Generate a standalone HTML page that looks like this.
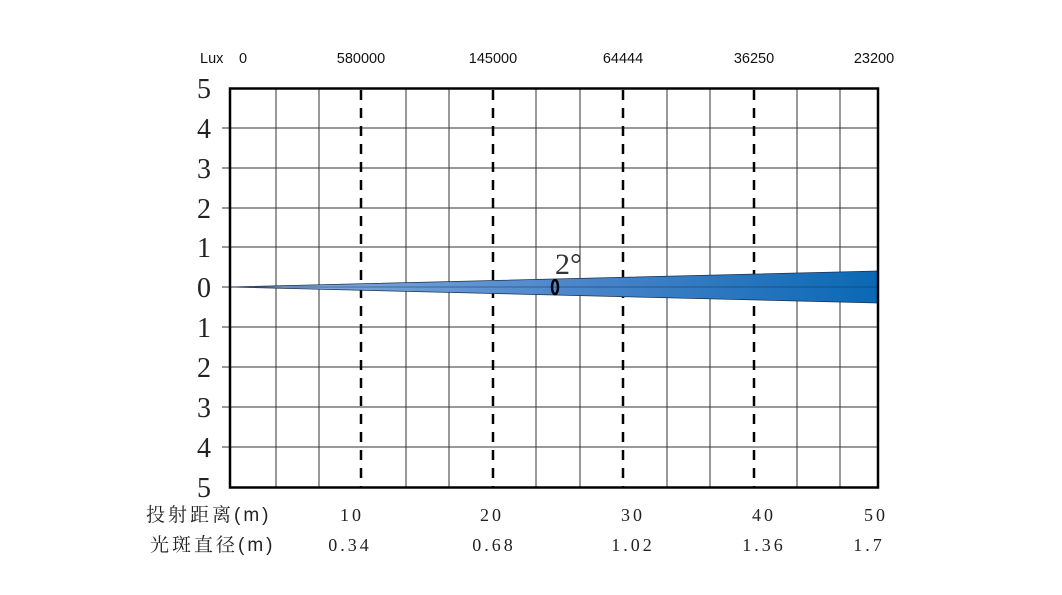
<!DOCTYPE html>
<html><head><meta charset="utf-8"><style>
body{margin:0;background:#fff;}
</style></head><body>
<svg width="1062" height="590" xmlns="http://www.w3.org/2000/svg">
<defs><linearGradient id="g" x1="0" x2="1" y1="0" y2="0">
<stop offset="0" stop-color="#8fb4e0"/><stop offset="0.5" stop-color="#4f88cc"/><stop offset="1" stop-color="#0a68b4"/></linearGradient></defs>
<g stroke="#333" stroke-width="1">
<line x1="276" y1="88" x2="276" y2="487"/><line x1="319" y1="88" x2="319" y2="487"/>
<line x1="406" y1="88" x2="406" y2="487"/><line x1="449" y1="88" x2="449" y2="487"/>
<line x1="536" y1="88" x2="536" y2="487"/><line x1="580" y1="88" x2="580" y2="487"/>
<line x1="667" y1="88" x2="667" y2="487"/><line x1="710" y1="88" x2="710" y2="487"/>
<line x1="797" y1="88" x2="797" y2="487"/><line x1="840" y1="88" x2="840" y2="487"/>
<line x1="222" y1="128" x2="878" y2="128"/><line x1="222" y1="168" x2="878" y2="168"/>
<line x1="222" y1="208" x2="878" y2="208"/><line x1="222" y1="247" x2="878" y2="247"/>
<line x1="222" y1="287" x2="878" y2="287"/><line x1="222" y1="327" x2="878" y2="327"/>
<line x1="222" y1="367" x2="878" y2="367"/><line x1="222" y1="407" x2="878" y2="407"/>
<line x1="222" y1="447" x2="878" y2="447"/>
</g>
<g stroke="#000" stroke-width="2.5" stroke-dasharray="10,8">
<line x1="361" y1="90" x2="361" y2="487"/><line x1="493" y1="90" x2="493" y2="487"/>
<line x1="623" y1="90" x2="623" y2="487"/><line x1="754" y1="90" x2="754" y2="487"/>
</g>
<polygon points="230,287 878,271 878,303" fill="url(#g)" stroke="#1a3050" stroke-width="0.8"/>
<line x1="230" y1="287" x2="878" y2="287" stroke="#1a3050" stroke-width="0.6"/>
<rect x="230" y="88.5" width="648" height="399" fill="none" stroke="#000" stroke-width="2.5"/>
<ellipse cx="555" cy="287" rx="3" ry="7" fill="none" stroke="#000" stroke-width="2.5"/>
<text x="555" y="274" font-family="Liberation Serif,serif" font-size="30" fill="#333">2°</text>
<g font-family="Liberation Sans,sans-serif" font-size="14.5" fill="#111">
<text x="200" y="63">Lux</text><text x="239" y="63">0</text>
<text x="361" y="63" text-anchor="middle">580000</text>
<text x="493" y="63" text-anchor="middle">145000</text>
<text x="623" y="63" text-anchor="middle">64444</text>
<text x="754" y="63" text-anchor="middle">36250</text>
<text x="874" y="63" text-anchor="middle">23200</text>
</g>
<g font-family="Liberation Serif,serif" font-size="28" fill="#222" text-anchor="middle">
<text x="204" y="98">5</text><text x="204" y="138">4</text><text x="204" y="178">3</text>
<text x="204" y="218">2</text><text x="204" y="257">1</text><text x="204" y="297">0</text>
<text x="204" y="337">1</text><text x="204" y="377">2</text><text x="204" y="417">3</text>
<text x="204" y="457">4</text><text x="204" y="497">5</text>
</g>
<g font-family="Liberation Sans,'Noto Serif CJK SC',sans-serif" font-size="19" fill="#222" letter-spacing="3">
<text x="146" y="521">投射距离(m)</text><text x="150" y="551">光斑直径(m)</text>
</g>
<g font-family="Liberation Serif,serif" font-size="18" fill="#222" text-anchor="middle" letter-spacing="3">
<text x="352" y="521">10</text><text x="492" y="521">20</text><text x="633" y="521">30</text>
<text x="764" y="521">40</text><text x="876" y="521">50</text>
<text x="350" y="551">0.34</text><text x="494" y="551">0.68</text><text x="633" y="551">1.02</text>
<text x="764" y="551">1.36</text><text x="869" y="551">1.7</text>
</g>
</svg>
</body></html>
